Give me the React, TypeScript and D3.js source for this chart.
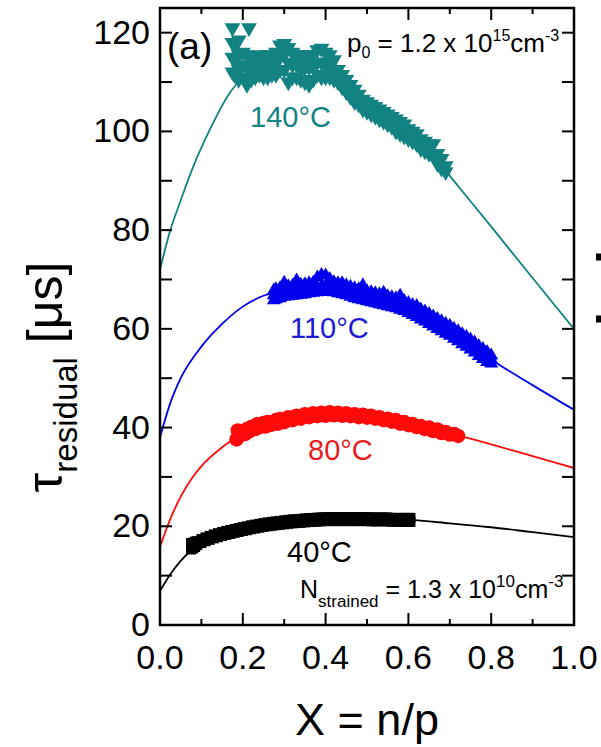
import React from "react";
import * as d3 from "d3";

// ---------- data ----------
const xMajorTicks = [0, 0.2, 0.4, 0.6, 0.8, 1.0];
const xMinorTicks = [0.1, 0.3, 0.5, 0.7, 0.9];
const yMajorTicks = [0, 20, 40, 60, 80, 100, 120];
const yMinorTicks = [10, 30, 50, 70, 90, 110];

// measured points, each row: [X, tau values read at that X...]
// 140°C (triangles down)
const rows140: number[][] = [
  [0.175, 121, 118, 115, 112], [0.18, 117.5, 114.5, 111.5], [0.19, 118.5, 115.5, 112.5, 110.5],
  [0.2, 116, 113.5, 111], [0.21, 115.5, 113, 110.5, 109.5], [0.215, 121], [0.22, 115, 112.5, 110.5],
  [0.23, 115, 113, 111], [0.24, 115.5, 113.5, 111.5], [0.25, 115, 113, 111], [0.26, 115.5, 113.5, 111],
  [0.27, 115.5, 113.5, 111.5], [0.28, 116, 114, 111.5], [0.29, 117.5, 115, 112.5],
  [0.3, 117.8, 115.5, 112.5], [0.31, 117, 114, 110], [0.32, 116, 113.5, 111], [0.33, 115.5, 113.5, 111],
  [0.34, 115.5, 113, 110.5], [0.35, 115, 113, 110], [0.36, 115.5, 113, 109.5], [0.37, 115.5, 113.5, 110.5],
  [0.38, 116.5, 114, 111.5], [0.39, 116.8, 114, 111], [0.4, 116, 113.5, 111], [0.41, 115.5, 113, 111],
  [0.42, 114.5, 112.5, 110.5], [0.43, 112.5, 110], [0.44, 111.5, 109], [0.45, 110.5, 108],
  [0.46, 109.5, 107], [0.47, 108.5, 106], [0.48, 107.5, 105.5], [0.49, 106.5, 104.5], [0.5, 106, 104],
  [0.51, 105.5, 103.5], [0.52, 105, 103], [0.53, 104.5, 102.5], [0.54, 104, 102], [0.55, 103.5, 101.5],
  [0.56, 103, 101], [0.57, 102.5, 100], [0.58, 102, 99.5], [0.59, 101.5, 99], [0.6, 100.5, 98.5],
  [0.61, 100, 98], [0.62, 99.5, 97.5], [0.63, 98.5, 96.5], [0.64, 98, 96], [0.65, 97.5, 95.5],
  [0.66, 97.5, 95.5], [0.67, 95.5, 93.5], [0.68, 94.5, 92.5], [0.69, 93, 91.8],
];

// 110°C (triangles up)
const rows110: number[][] = [
  [0.275, 67.8, 66.8, 65.8], [0.28, 68, 67, 66], [0.29, 68.2, 67.2, 66.2], [0.3, 69.3, 67.5, 66.5],
  [0.31, 68.6, 67.6, 66.6], [0.32, 68.7, 67.7, 66.7], [0.33, 69.8, 67.8, 66.8], [0.34, 68.9, 67.9, 66.9],
  [0.35, 69, 68, 67], [0.36, 69.2, 68.2, 67.2], [0.37, 69.3, 68.3, 67.3], [0.38, 70.4, 68.4, 67.4],
  [0.39, 70.9, 68.5, 67.5], [0.4, 70.8, 68.6, 67.6], [0.41, 70.1, 68.5, 67.5], [0.42, 69.4, 68.4, 67.4],
  [0.43, 69.2, 68.2, 67.2], [0.44, 69.2, 68, 67], [0.45, 68.8, 67.8, 66.8], [0.46, 68.5, 67.5, 66.5],
  [0.47, 68.2, 67.2, 66.2], [0.48, 68, 67, 66], [0.49, 68.8, 66.8, 65.8], [0.5, 67.6, 66.6, 65.6],
  [0.51, 67.4, 66.4, 65.4], [0.52, 67.2, 66.2, 65.2], [0.53, 67, 66, 65], [0.54, 67.3, 65.8, 64.8],
  [0.55, 66.6, 65.6, 64.6], [0.56, 66.4, 65.4, 64.4], [0.57, 66.2, 65.2, 64.2], [0.58, 66.7, 64.9, 63.9],
  [0.59, 65.6, 64.6, 63.6], [0.6, 65.2, 64.2, 63.2], [0.61, 64.8, 63.8, 62.8], [0.62, 64.6, 63.4, 62.4],
  [0.63, 63.9, 62.9, 61.9], [0.64, 63.5, 62.5, 61.5], [0.65, 63, 62, 61], [0.66, 62.5, 61.5, 60.5],
  [0.67, 62, 61, 60], [0.68, 61.5, 60.5, 59.5], [0.69, 61, 60, 59], [0.7, 60.6, 59.6, 58.6],
  [0.71, 60, 59, 58], [0.72, 59.5, 58.5, 57.5], [0.73, 58.9, 57.9, 56.9], [0.74, 58.4, 57.4, 56.4],
  [0.75, 57.8, 56.8, 55.8], [0.76, 57.2, 56.2, 55.2], [0.77, 56.5, 55.5, 54.5], [0.78, 55.9, 54.9, 53.9],
  [0.79, 55.3, 54.3, 53.3], [0.8, 54.6, 53.8, 53],
];

// 80°C (circles)
const rows80: number[][] = [
  [0.185, 37.6], [0.188, 39.4], [0.195, 38.5], [0.2, 39.3], [0.205, 38.7], [0.21, 39.7], [0.215, 39.2],
  [0.22, 40.1], [0.23, 39.7], [0.235, 40.7], [0.24, 40.1], [0.25, 40.9], [0.255, 40.2], [0.26, 41.1],
  [0.27, 40.6], [0.28, 41.5], [0.285, 40.8], [0.29, 41.7], [0.3, 41.1], [0.31, 42.1], [0.32, 41.5],
  [0.33, 42.4], [0.34, 41.8], [0.35, 42.7], [0.36, 42.1], [0.37, 42.9], [0.38, 42.3], [0.39, 43],
  [0.4, 42.4], [0.41, 43.1], [0.42, 42.5], [0.43, 43], [0.44, 42.4], [0.45, 42.9], [0.46, 42.3],
  [0.47, 42.7], [0.48, 42.1], [0.49, 42.6], [0.5, 42], [0.51, 42.4], [0.52, 41.8], [0.53, 42.1],
  [0.54, 41.5], [0.55, 41.8], [0.56, 41.2], [0.57, 41.5], [0.58, 40.8], [0.59, 41.1], [0.6, 40.5],
  [0.61, 40.7], [0.62, 40.1], [0.63, 40.3], [0.64, 39.7], [0.65, 40], [0.66, 39.3], [0.67, 39.6],
  [0.68, 38.9], [0.69, 39.1], [0.7, 38.6], [0.71, 38.7], [0.72, 38.3],
];

// 40°C (squares)
const rows40: number[][] = [
  [0.075, 16.6, 15.3], [0.08, 16.7, 15.5], [0.085, 16.9, 15.8], [0.09, 17.0, 16.2], [0.1, 17.4, 16.6],
  [0.11, 17.75, 16.95], [0.12, 18.05, 17.25], [0.13, 18.35, 17.55], [0.14, 18.6, 17.8],
  [0.15, 18.85, 18.05], [0.16, 19.05, 18.25], [0.17, 19.25, 18.45], [0.18, 19.45, 18.65],
  [0.19, 19.65, 18.85], [0.2, 19.85, 19.05], [0.21, 20.0, 19.2], [0.22, 20.2, 19.4],
  [0.23, 20.35, 19.55], [0.24, 20.5, 19.7], [0.25, 20.65, 19.85], [0.26, 20.8, 20.0],
  [0.27, 20.9, 20.1], [0.28, 21.0, 20.2], [0.29, 21.1, 20.3], [0.3, 21.2, 20.4], [0.31, 21.3, 20.5],
  [0.32, 21.4, 20.6], [0.33, 21.45, 20.65], [0.34, 21.5, 20.7], [0.35, 21.6, 20.8], [0.36, 21.65, 20.85],
  [0.37, 21.7, 20.9], [0.38, 21.75, 20.95], [0.39, 21.8, 21.0], [0.4, 21.85, 21.05],
  [0.41, 21.85, 21.05], [0.42, 21.85, 21.05], [0.43, 21.85, 21.05], [0.44, 21.85, 21.05],
  [0.45, 21.85, 21.05], [0.46, 21.85, 21.05], [0.47, 21.85, 21.05], [0.48, 21.85, 21.05],
  [0.49, 21.85, 21.05], [0.5, 21.85, 21.05], [0.51, 21.8, 21.0], [0.52, 21.8, 21.0],
  [0.53, 21.8, 21.0], [0.54, 21.8, 21.0], [0.55, 21.8, 21.0], [0.56, 21.7, 20.9], [0.57, 21.7, 20.9],
  [0.58, 21.7, 20.9], [0.59, 21.7, 20.9], [0.6, 21.7, 20.9], [0.605, 21.7, 20.9],
];

// fitted curves [X, tau]
const fit140: [number, number][] = [
  [0, 72], [0.025, 80], [0.05, 86], [0.08, 92.8], [0.12, 100.3], [0.17, 108], [0.2, 111],
  [0.25, 113.5], [0.3, 114.5], [0.35, 114.2], [0.4, 112.5], [0.45, 109.5], [0.5, 105.3],
  [0.55, 102.5], [0.6, 99.5], [0.65, 96.2], [0.7, 91], [0.8, 80.7], [0.9, 70.3], [1.0, 60],
];
const fit110: [number, number][] = [
  [0, 38], [0.025, 45], [0.05, 50], [0.1, 56.4], [0.15, 61], [0.2, 64.5], [0.25, 66.7], [0.3, 67.6],
  [0.35, 68], [0.4, 68.5], [0.45, 67.8], [0.5, 66.6], [0.55, 65.6], [0.6, 64.2], [0.65, 62],
  [0.7, 59.6], [0.75, 56.8], [0.8, 53.8], [0.9, 48.6], [1.0, 43.6],
];
const fit80: [number, number][] = [
  [0, 15.8], [0.025, 21.5], [0.05, 26], [0.075, 29.5], [0.1, 32.2], [0.15, 36], [0.2, 38.8],
  [0.25, 40.4], [0.3, 41.5], [0.35, 42.3], [0.4, 42.7], [0.45, 42.6], [0.5, 42.2], [0.55, 41.6],
  [0.6, 40.7], [0.65, 39.8], [0.7, 38.8], [0.8, 36.6], [0.9, 34.2], [1.0, 31.8],
];
const fit40: [number, number][] = [
  [0, 6.9], [0.025, 10.3], [0.05, 13], [0.075, 15.1], [0.1, 16.8], [0.15, 18.4], [0.2, 19.4],
  [0.25, 20.2], [0.3, 20.8], [0.35, 21.2], [0.4, 21.4], [0.45, 21.45], [0.5, 21.45], [0.55, 21.4],
  [0.6, 21.3], [0.7, 20.6], [0.8, 19.8], [0.9, 18.8], [1.0, 17.8],
];

const seriesLabels = ["140°C", "110°C", "80°C", "40°C"];

// ---------- layout ----------
const W = 601;
const H = 747;
const L = 160, R = 574, T = 8, B = 625;
const FONT = "'Liberation Sans', Arial, Helvetica, sans-serif";

const TEAL = "#128282";
const BLUE = "#0000ee";
const RED = "#ff0a0a";
const BLACK = "#000000";

const toPoints = (rows: number[][]): [number, number][] =>
  rows.flatMap(([xv, ...vs]) => vs.map((v) => [xv, v] as [number, number]));

export default function App() {
  const x = d3.scaleLinear().domain([0, 1]).range([L, R]);
  const y = d3.scaleLinear().domain([0, 125]).range([B, T]);

  const line = d3
    .line<[number, number]>()
    .x((d) => x(d[0]))
    .y((d) => y(d[1]))
    .curve(d3.curveMonotoneX);

  const triDown = d3.symbol().type(d3.symbolTriangle).size(110)() as string;
  const triUp = d3.symbol().type(d3.symbolTriangle).size(85)() as string;

  const pts140 = toPoints(rows140);
  const pts110 = toPoints(rows110);
  const pts80 = toPoints(rows80);
  const pts40 = toPoints(rows40);

  const xMaj = 12, xMin = 6, yTick = 12;

  const fits = [
    { fit: fit140, color: TEAL },
    { fit: fit110, color: BLUE },
    { fit: fit80, color: RED },
    { fit: fit40, color: BLACK },
  ];

  return (
    <svg
      width={W}
      height={H}
      viewBox={`0 0 ${W} ${H}`}
      style={{ position: "absolute", left: 0, top: 0, background: "#fff" }}
      fontFamily={FONT}
    >
      <rect x={0} y={0} width={W} height={H} fill="#fff" />
      <defs>
        <clipPath id="plot">
          <rect x={L} y={T} width={R - L} height={B - T} />
        </clipPath>
      </defs>

      {/* fit lines */}
      <g clipPath="url(#plot)">
        {fits.map((s, i) => (
          <path key={i} d={line(s.fit) || ""} fill="none" stroke={s.color} strokeWidth={1.8} />
        ))}
      </g>

      {/* markers */}
      <g fill={TEAL}>
        {pts140.map((d, i) => (
          <path key={i} d={triDown} transform={`translate(${x(d[0])},${y(d[1])}) rotate(180)`} />
        ))}
      </g>
      <g fill={BLUE}>
        {pts110.map((d, i) => (
          <path key={i} d={triUp} transform={`translate(${x(d[0])},${y(d[1])})`} />
        ))}
      </g>
      <g fill={RED}>
        {pts80.map((d, i) => (
          <circle key={i} cx={x(d[0])} cy={y(d[1])} r={7.3} />
        ))}
      </g>
      <g fill={BLACK}>
        {pts40.map((d, i) => (
          <rect key={i} x={x(d[0]) - 5} y={y(d[1]) - 5} width={10} height={10} />
        ))}
      </g>

      {/* frame */}
      <rect x={L} y={T} width={R - L} height={B - T} fill="none" stroke="#000" strokeWidth={2.5} />

      {/* ticks */}
      <g stroke="#000" strokeWidth={2}>
        {xMajorTicks.map((t) => (
          <g key={"xm" + t}>
            <line x1={x(t)} x2={x(t)} y1={B} y2={B - xMaj} />
            <line x1={x(t)} x2={x(t)} y1={T} y2={T + xMaj} />
          </g>
        ))}
        {xMinorTicks.map((t) => (
          <g key={"xn" + t}>
            <line x1={x(t)} x2={x(t)} y1={B} y2={B - xMin} />
            <line x1={x(t)} x2={x(t)} y1={T} y2={T + xMin} />
          </g>
        ))}
        {[...yMajorTicks, ...yMinorTicks].map((t) => (
          <g key={"y" + t}>
            <line x1={L} x2={L + yTick} y1={y(t)} y2={y(t)} />
            <line x1={R} x2={R - yTick} y1={y(t)} y2={y(t)} />
          </g>
        ))}
      </g>

      {/* tick labels */}
      <g fontSize={34} fill="#000">
        {xMajorTicks.map((t) => (
          <text key={"xl" + t} x={x(t)} y={669} textAnchor="middle">
            {t.toFixed(1)}
          </text>
        ))}
        {yMajorTicks.map((t) => (
          <text key={"yl" + t} x={150} y={y(t) + 11} textAnchor="end">
            {t}
          </text>
        ))}
      </g>

      {/* axis titles */}
      <text x={x(0.5)} y={735} textAnchor="middle" fontSize={45} fill="#000">
        X = n/p
      </text>
      <text
        transform={`translate(62,${377}) rotate(-90)`}
        textAnchor="middle"
        fontSize={50}
        fill="#000"
      >
        τ
        <tspan fontSize={33} dy={15}>residual</tspan>
        <tspan dy={-15}> [μs]</tspan>
      </text>

      {/* series labels */}
      <g fontSize={29}>
        <text x={250} y={127} fill={TEAL}>{seriesLabels[0]}</text>
        <text x={290} y={338} fill="#1a1ad6">{seriesLabels[1]}</text>
        <text x={308} y={460} fill="#e41e1e">{seriesLabels[2]}</text>
        <text x={287} y={562} fill="#000">{seriesLabels[3]}</text>
      </g>

      {/* annotations */}
      <text x={167} y={59} fontSize={37} fill="#000">(a)</text>
      <text x={347} y={52} fontSize={26} fill="#000">
        p<tspan fontSize={16} dy={6}>0</tspan>
        <tspan dy={-6}> = 1.2 x 10</tspan>
        <tspan fontSize={16} dy={-11}>15</tspan>
        <tspan dy={11}>cm</tspan>
        <tspan fontSize={16} dy={-11}>-3</tspan>
      </text>
      <text x={300} y={598} fontSize={25} fill="#000">
        N<tspan fontSize={17} dy={9}>strained</tspan>
        <tspan dy={-9}> = 1.3 x 10</tspan>
        <tspan fontSize={17} dy={-11}>10</tspan>
        <tspan dy={11}>cm</tspan>
        <tspan fontSize={17} dy={-11}>-3</tspan>
      </text>

      {/* fragment of neighbouring panel at the right edge */}
      <path d="M596,257 H608 V319 H596" fill="none" stroke="#000" strokeWidth={7} />
    </svg>
  );
}
